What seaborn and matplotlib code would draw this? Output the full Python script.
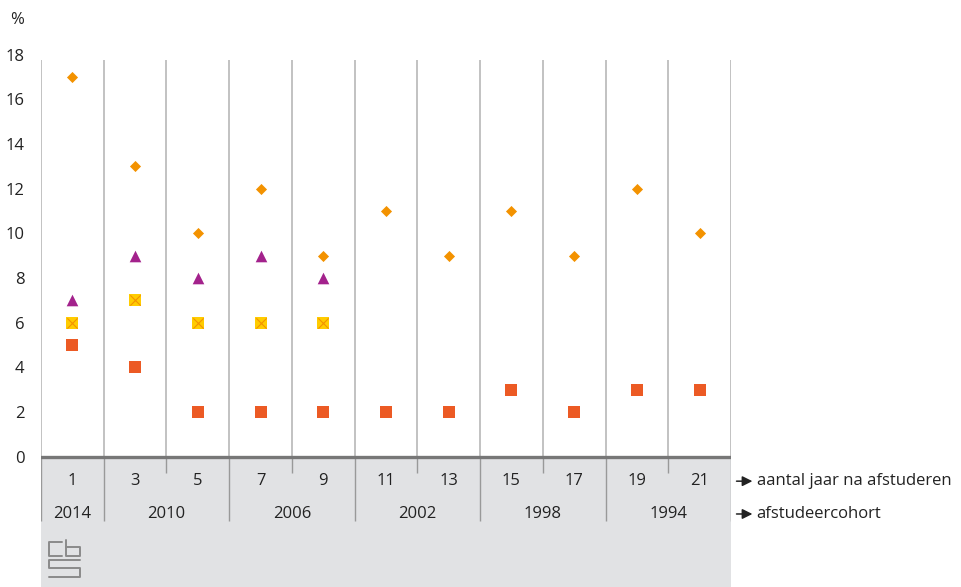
import numpy as np
import pandas as pd
import matplotlib
matplotlib.use('Agg')
import matplotlib.pyplot as plt
import seaborn as sns

# data
jaren = [1, 3, 5, 7, 9, 11, 13, 15, 17, 19, 21]
cohorten = ['2014', '2010', '2006', '2002', '1998', '1994']
cohort_span = [1, 2, 2, 2, 2, 2]  # number of columns per cohort
oranje = [17, 13, 10, 12, 9, 11, 9, 11, 9, 12, 10]
paars = [7, 9, 8, 9, 8]
geel = [6, 7, 6, 6, 6]
rood = [5, 4, 2, 2, 2, 2, 2, 3, 2, 3, 3]

sns.set_theme(style='white')
plt.rcParams['font.family'] = ['Open Sans', 'DejaVu Sans']
FS = 12

rows = []
for name, vals in [('oranje', oranje), ('paars', paars), ('geel', geel), ('rood', rood)]:
    for i, v in enumerate(vals):
        rows.append({'pos': i, 'jaar': jaren[i], 'reeks': name, 'waarde': v})
df = pd.DataFrame(rows)

fig = plt.figure(figsize=(9.61, 5.87), dpi=100)
ax = fig.add_axes([41 / 961, 0, 690 / 961, 532.3 / 587])
ax.set_xlim(-0.5, len(jaren) - 0.5)
ax.set_ylim(-5.84, 18)
for s in ax.spines.values():
    s.set_visible(False)

# grey band below axis
ax.axhspan(-5.84, 0, color='#e1e2e4', zorder=0, lw=0)
# vertical separators in plot area
for b in np.arange(-0.5, len(jaren), 1):
    ax.vlines(b, 0, 17.75, color='#bdbdbd', lw=1.3, zorder=1)
# separators in band
edges = np.cumsum([0] + cohort_span) - 0.5
for b in np.arange(0.5, len(jaren) - 1, 1):
    if b in edges:
        ax.vlines(b, -2.9, 0, color='#999999', lw=1, zorder=1)
    else:
        ax.vlines(b, -0.73, 0, color='#999999', lw=1, zorder=1)
ax.vlines([-0.5], -2.9, 0, color='#999999', lw=1, zorder=1)
ax.vlines([len(jaren) - 0.5], -2.9, 0, color='#999999', lw=1, zorder=1)
ax.axhline(0, color='#777777', lw=2.4, zorder=2)

sns.scatterplot(data=df[df.reeks == 'oranje'], x='pos', y='waarde', marker='D',
                color='#f39200', s=32, linewidth=0, ax=ax, zorder=3)
sns.scatterplot(data=df[df.reeks == 'paars'], x='pos', y='waarde', marker='^',
                color='#a3228c', s=70, linewidth=0, ax=ax, zorder=3)
sns.scatterplot(data=df[df.reeks == 'geel'], x='pos', y='waarde', marker='s',
                color='#ffcc00', s=75, linewidth=0, ax=ax, zorder=3)
sns.scatterplot(data=df[df.reeks == 'geel'], x='pos', y='waarde', marker='x',
                color='#f39200', s=55, linewidth=0.8, ax=ax, zorder=4)
sns.scatterplot(data=df[df.reeks == 'rood'], x='pos', y='waarde', marker='s',
                color='#ec5a24', s=75, linewidth=0, ax=ax, zorder=3)

ax.set_xlabel('')
ax.set_ylabel('')
ax.set_xticks([])
ax.set_yticks(range(0, 19, 2))
ax.set_yticklabels([str(v) for v in range(0, 19, 2)], fontsize=FS, color='#222222')
ax.tick_params(axis='y', length=0, pad=12)

# x labels in band
for i, j in enumerate(jaren):
    ax.text(i, -1.1, str(j), ha='center', va='center', fontsize=FS, color='#222222')
start = 0
for c, n in zip(cohorten, cohort_span):
    ax.text(start + (n - 1) / 2, -2.57, c, ha='center', va='center', fontsize=FS, color='#222222')
    start += n

# arrows with labels at right
tr = ax.get_yaxis_transform()
for y, lab in [(-1.1, 'aantal jaar na afstuderen'), (-2.57, 'afstudeercohort')]:
    ax.annotate('', xy=(1.031, y), xytext=(1.008, y), xycoords=tr, textcoords=tr,
                arrowprops=dict(arrowstyle='-|>,head_length=0.6,head_width=0.3',
                                color='#222222', lw=1.1, shrinkA=0, shrinkB=0,
                                mutation_scale=10),
                annotation_clip=False)
    ax.text(1.037, y, lab, transform=tr, ha='left', va='center', fontsize=FS,
            color='#222222', clip_on=False)

fig.text(10 / 961, 1 - 20 / 587, '%', ha='left', va='center', fontsize=FS, color='#222222')

# simple cbs logo outline
lx = lambda p: p / 961
ly = lambda p: 1 - p / 587
logo = [
    [(62, 542), (49, 542), (49, 556), (62, 556)],
    [(66, 540), (66, 556), (80, 556), (80, 547), (66, 547)],
    [(80, 560), (49, 560), (49, 568), (80, 568), (80, 577), (49, 577)],
]
for seg in logo:
    xs = [lx(p[0]) for p in seg]
    ys = [ly(p[1]) for p in seg]
    fig.add_artist(plt.Line2D(xs, ys, color='#8a8a8a', lw=1.4))

fig.savefig('out.png', dpi=100)
